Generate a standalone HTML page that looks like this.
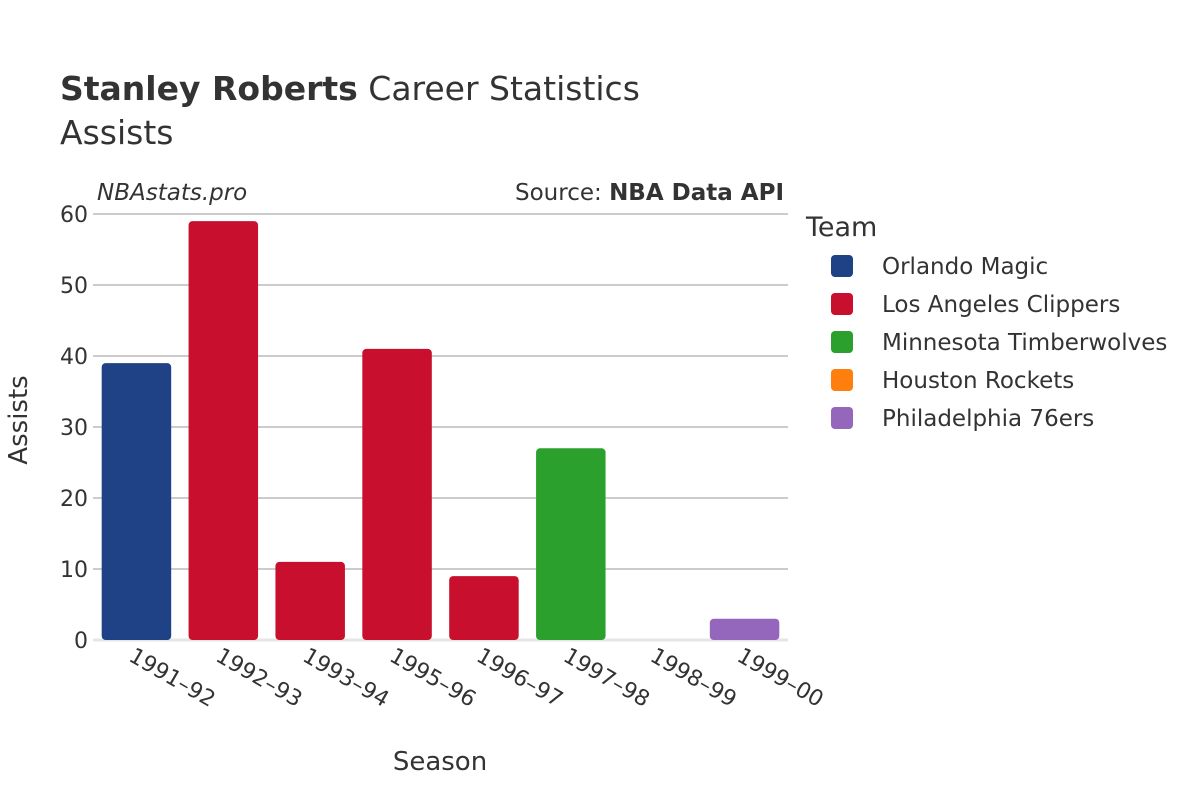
<!DOCTYPE html>
<html><head><meta charset="utf-8"><style>
body{margin:0;background:#fff;}
svg{font-family:"DejaVu Sans","Liberation Sans",sans-serif;}
</style></head><body>
<svg id="chart" width="1200" height="800" viewBox="0 0 1200 800">
<text x="60" y="100" font-size="33" fill="#333"><tspan font-weight="bold">Stanley Roberts</tspan> Career Statistics</text>
<text x="60" y="144" font-size="33" fill="#333">Assists</text>
<text x="97" y="200" font-size="23" font-style="italic" fill="#333">NBAstats.pro</text>
<text x="784" y="200" font-size="23" text-anchor="end" fill="#333">Source: <tspan font-weight="bold">NBA Data API</tspan></text>
<g id="grid"></g>
<g id="bars"></g>
<g id="xlabels"></g>
<text x="440" y="770" font-size="26" text-anchor="middle" fill="#333">Season</text>
<text transform="translate(27,420) rotate(-90)" font-size="26" text-anchor="middle" fill="#333">Assists</text>
<text x="806" y="236" font-size="27" fill="#333">Team</text>
<g id="legend"></g>
</svg>
<script>
const seasons=["1991–92","1992–93","1993–94","1995–96","1996–97","1997–98","1998–99","1999–00"];
const assists=[39,59,11,41,9,27,0,3];
const teams=["Orlando Magic","Los Angeles Clippers","Los Angeles Clippers","Los Angeles Clippers","Los Angeles Clippers","Minnesota Timberwolves","Houston Rockets","Philadelphia 76ers"];
const yTicks=[0,10,20,30,40,50,60];
const legendTeams=["Orlando Magic","Los Angeles Clippers","Minnesota Timberwolves","Houston Rockets","Philadelphia 76ers"];
const colors={"Orlando Magic":"#1f4287","Los Angeles Clippers":"#c8102e","Minnesota Timberwolves":"#2ca02c","Houston Rockets":"#ff7f0e","Philadelphia 76ers":"#9467bd"};
const NS="http://www.w3.org/2000/svg";
const x0=93,x1=788,y0=640,yTop=214,yMax=60;
const band=(x1-x0)/seasons.length;
const y=v=>y0-(v/yMax)*(y0-yTop);
const xc=i=>x0+band*(i+0.5);
function mk(t,a,p){const e=document.createElementNS(NS,t);for(const k in a)e.setAttribute(k,a[k]);p.appendChild(e);return e;}
const grid=document.getElementById('grid');
yTicks.forEach(t=>{
  const l=mk('line',{x1:x0,x2:x1,y1:y(t),y2:y(t),stroke:t===0?'#e6e6e6':'#999','stroke-width':t===0?3:1},grid);
  
  
  const tx=mk('text',{x:88,y:y(t)+8,'font-size':22,'text-anchor':'end',fill:'#333'},grid);
  tx.textContent=t;
  
  
});
const bars=document.getElementById('bars');
const bw=band*0.8;
seasons.forEach((s,i)=>{
  const v=assists[i];
  const h=y0-y(v);
  const r=Math.min(4,h/2);
  const b=mk('rect',{x:xc(i)-bw/2,y:y(v),width:bw,height:Math.max(h,0),rx:r,fill:colors[teams[i]]},bars);
  
  
  const g=document.getElementById('xlabels');
  const tx=mk('text',{transform:`translate(${xc(i)-9},${660}) rotate(30)`,'font-size':22,fill:'#333'},g);
  tx.textContent=s;
  
  
});
const lg=document.getElementById('legend');
legendTeams.forEach((t,i)=>{
  const yy=266+i*38;
  const r=mk('rect',{x:831,y:yy-11,width:22,height:22,rx:4,fill:colors[t]},lg);
  
  
  const tx=mk('text',{x:882,y:yy+8,'font-size':23,fill:'#333'},lg);
  tx.textContent=t;
  
  
});
</script>
</body></html>
